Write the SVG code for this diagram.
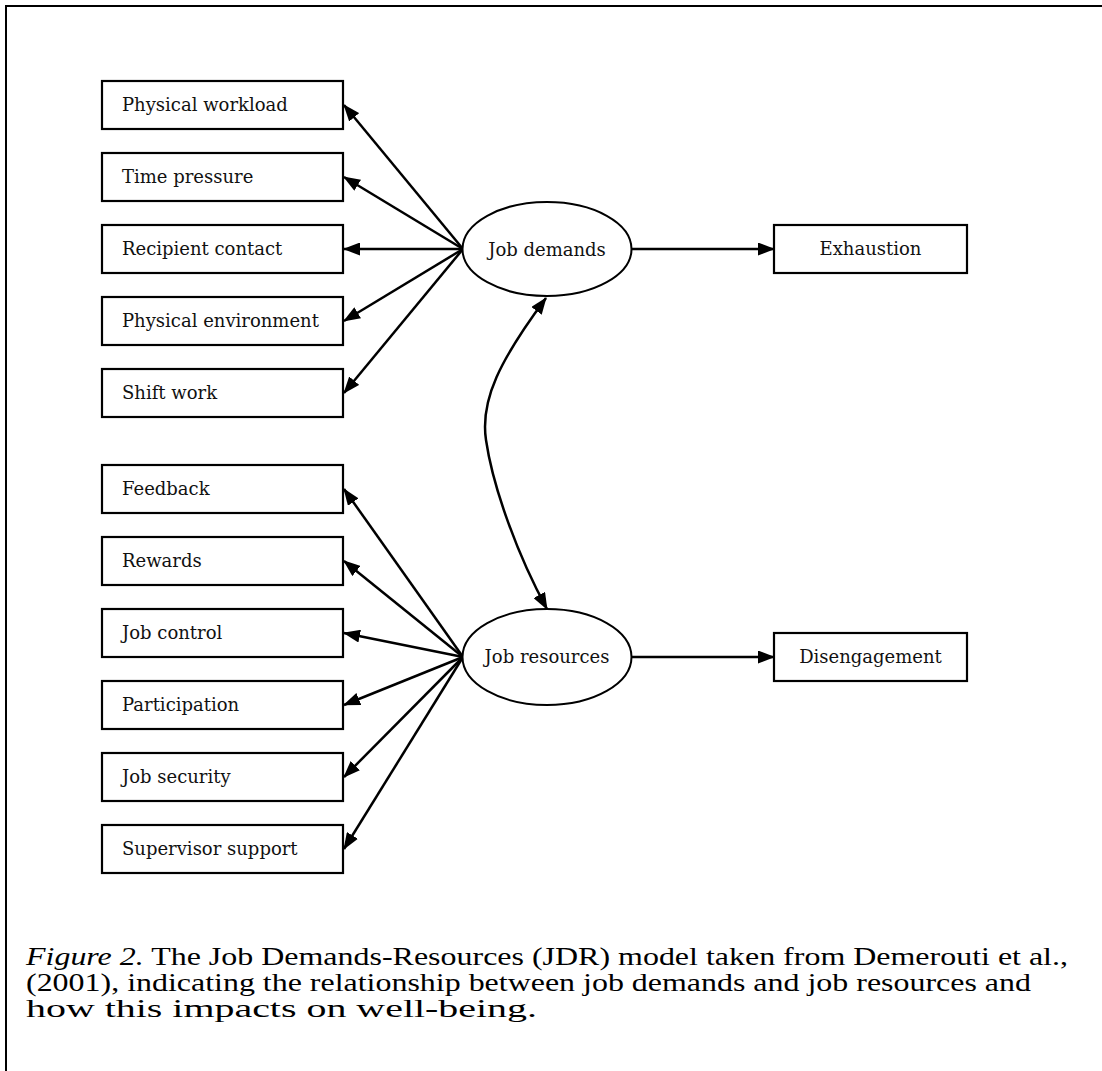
<svg xmlns="http://www.w3.org/2000/svg" width="1102" height="1071" viewBox="0 0 1102 1071">
<defs>
<style>
.frame{fill:none;stroke:#000;stroke-width:2}
.box{fill:#fff;stroke:#000;stroke-width:2.2}
.ell{fill:#fff;stroke:#000;stroke-width:2}
.lbl{font-family:"DejaVu Serif","Liberation Serif",serif;font-size:18px;fill:#111}
.mid{text-anchor:middle}
.cn{fill:none;stroke:#000;stroke-width:2.5}
.cap{font-family:"Liberation Serif","Times New Roman",serif;font-size:25px;fill:#000}
</style>
<marker id="ah" viewBox="0 0 17 13" refX="16" refY="6.5" markerWidth="17" markerHeight="13" markerUnits="userSpaceOnUse" orient="auto-start-reverse">
<path d="M0,0 L17,6.5 L0,13 z" fill="#000"/>
</marker>
</defs>
<rect width="1102" height="1071" fill="#fff"/>
<path class="frame" d="M6,1071 V6 H1102"/>

<g id="connectors">
<line class="cn" x1="463" y1="249" x2="344" y2="105" marker-end="url(#ah)"/>
<line class="cn" x1="463" y1="249" x2="344" y2="177" marker-end="url(#ah)"/>
<line class="cn" x1="463" y1="249" x2="344" y2="249" marker-end="url(#ah)"/>
<line class="cn" x1="463" y1="249" x2="344" y2="321" marker-end="url(#ah)"/>
<line class="cn" x1="463" y1="249" x2="344" y2="393" marker-end="url(#ah)"/>
<line class="cn" x1="463" y1="657" x2="344" y2="489" marker-end="url(#ah)"/>
<line class="cn" x1="463" y1="657" x2="344" y2="561" marker-end="url(#ah)"/>
<line class="cn" x1="463" y1="657" x2="344" y2="633" marker-end="url(#ah)"/>
<line class="cn" x1="463" y1="657" x2="344" y2="705" marker-end="url(#ah)"/>
<line class="cn" x1="463" y1="657" x2="344" y2="777" marker-end="url(#ah)"/>
<line class="cn" x1="463" y1="657" x2="344" y2="849" marker-end="url(#ah)"/>
<line class="cn" x1="632" y1="249" x2="774" y2="249" marker-end="url(#ah)"/>
<line class="cn" x1="632" y1="657" x2="774" y2="657" marker-end="url(#ah)"/>
<path class="cn" d="M546,298 C500,360 480,400 486,440 C493,488 518,556 547,609" marker-start="url(#ah)" marker-end="url(#ah)"/>
</g>

<g id="physical-workload"><rect class="box" x="102" y="81" width="241" height="48"/><text class="lbl" x="122" y="111">Physical workload</text></g>
<g id="time-pressure"><rect class="box" x="102" y="153" width="241" height="48"/><text class="lbl" x="122" y="183">Time pressure</text></g>
<g id="recipient-contact"><rect class="box" x="102" y="225" width="241" height="48"/><text class="lbl" x="122" y="255">Recipient contact</text></g>
<g id="physical-environment"><rect class="box" x="102" y="297" width="241" height="48"/><text class="lbl" x="122" y="327">Physical environment</text></g>
<g id="shift-work"><rect class="box" x="102" y="369" width="241" height="48"/><text class="lbl" x="122" y="399">Shift work</text></g>

<g id="feedback"><rect class="box" x="102" y="465" width="241" height="48"/><text class="lbl" x="122" y="495">Feedback</text></g>
<g id="rewards"><rect class="box" x="102" y="537" width="241" height="48"/><text class="lbl" x="122" y="567">Rewards</text></g>
<g id="job-control"><rect class="box" x="102" y="609" width="241" height="48"/><text class="lbl" x="122" y="639">Job control</text></g>
<g id="participation"><rect class="box" x="102" y="681" width="241" height="48"/><text class="lbl" x="122" y="711">Participation</text></g>
<g id="job-security"><rect class="box" x="102" y="753" width="241" height="48"/><text class="lbl" x="122" y="783">Job security</text></g>
<g id="supervisor-support"><rect class="box" x="102" y="825" width="241" height="48"/><text class="lbl" x="122" y="855">Supervisor support</text></g>

<g id="job-demands"><ellipse class="ell" cx="547" cy="249" rx="84.5" ry="47"/><text class="lbl mid" x="547" y="255.5">Job demands</text></g>
<g id="job-resources"><ellipse class="ell" cx="547" cy="657" rx="84.5" ry="48"/><text class="lbl mid" x="547" y="663">Job resources</text></g>

<g id="exhaustion"><rect class="box" x="774" y="225" width="193" height="48"/><text class="lbl mid" x="870.5" y="255">Exhaustion</text></g>
<g id="disengagement"><rect class="box" x="774" y="633" width="193" height="48"/><text class="lbl mid" x="870.5" y="663">Disengagement</text></g>

<g id="caption">
<text class="cap" x="26" y="965" textLength="1042" lengthAdjust="spacingAndGlyphs"><tspan font-style="italic">Figure 2.</tspan> The Job Demands-Resources (JDR) model taken from Demerouti et al.,</text>
<text class="cap" x="26" y="991" textLength="1005" lengthAdjust="spacingAndGlyphs">(2001), indicating the relationship between job demands and job resources and</text>
<text class="cap" x="26" y="1017" textLength="511" lengthAdjust="spacingAndGlyphs">how this impacts on well-being.</text>
</g>
</svg>
